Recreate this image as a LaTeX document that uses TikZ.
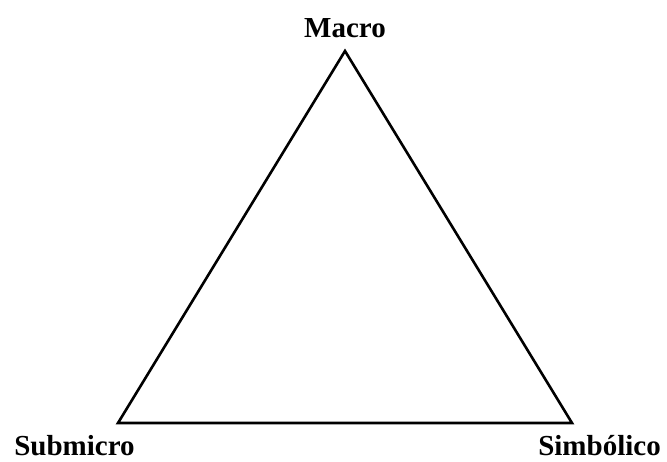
\documentclass[tikz,border=0pt]{standalone}
\usepackage{fontspec}
\setmainfont{Liberation Serif}
\usetikzlibrary{positioning}

\begin{document}
\begin{tikzpicture}[x=1bp,y=-1bp,line width=2.6bp,line join=miter,
  vlabel/.style={font=\bfseries\fontsize{29bp}{34bp}\selectfont,inner sep=0pt}]
  \useasboundingbox (0,0) rectangle (667,462);

  % vertices
  \coordinate (top) at (345,51);
  \coordinate (left) at (118,423);
  \coordinate (right) at (572,423);
  \draw (top) -- (left) -- (right) -- cycle;

  % labels
  \node[vlabel,anchor=base] (macro) at (345,38) {Macro};
  \node[vlabel,anchor=base west] (submicro) at (13,455) {Submicro};
  \node[vlabel,anchor=base west] (simbolico) at (537,455) {Simbólico};
\end{tikzpicture}
\end{document}
